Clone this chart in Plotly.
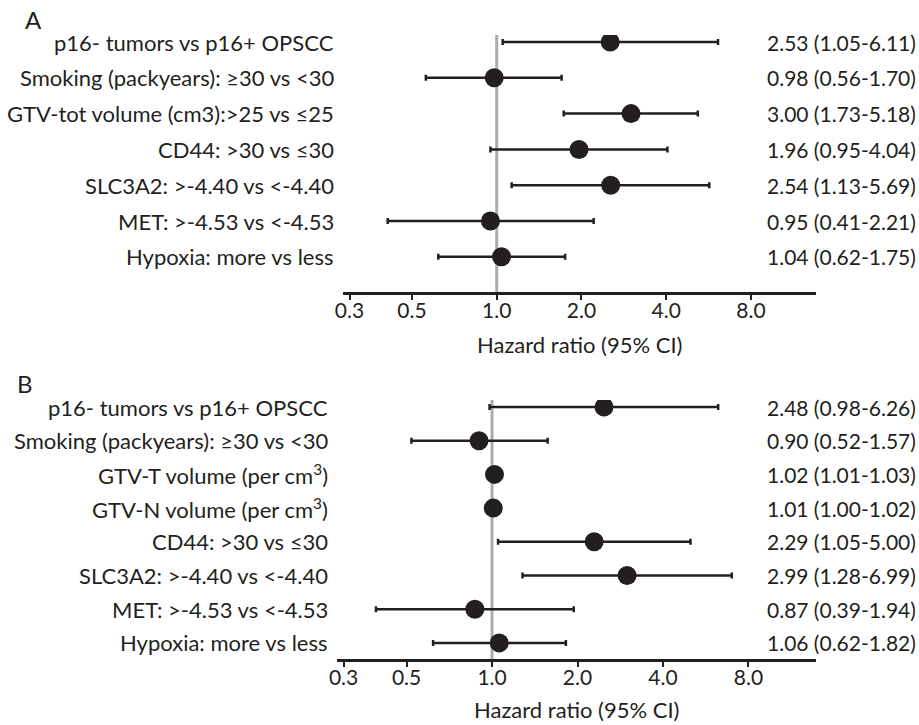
import plotly.graph_objects as go

# ---- Data ----
labels_a = [
    "p16- tumors vs p16+ OPSCC",
    "Smoking (packyears): ≥30 vs <30",
    "GTV-tot volume (cm3):>25 vs ≤25",
    "CD44: >30 vs ≤30",
    "SLC3A2: >-4.40 vs <-4.40",
    "MET: >-4.53 vs <-4.53",
    "Hypoxia: more vs less",
]
hr_a = [2.53, 0.98, 3.00, 1.96, 2.54, 0.95, 1.04]
lo_a = [1.05, 0.56, 1.73, 0.95, 1.13, 0.41, 0.62]
hi_a = [6.11, 1.70, 5.18, 4.04, 5.69, 2.21, 1.75]

labels_b = [
    "p16- tumors vs p16+ OPSCC",
    "Smoking (packyears): ≥30 vs <30",
    "GTV-T volume (per cm<sup>3</sup>)",
    "GTV-N volume (per cm<sup>3</sup>)",
    "CD44: >30 vs ≤30",
    "SLC3A2: >-4.40 vs <-4.40",
    "MET: >-4.53 vs <-4.53",
    "Hypoxia: more vs less",
]
hr_b = [2.48, 0.90, 1.02, 1.01, 2.29, 2.99, 0.87, 1.06]
lo_b = [0.98, 0.52, 1.01, 1.00, 1.05, 1.28, 0.39, 0.62]
hi_b = [6.26, 1.57, 1.03, 1.02, 5.00, 6.99, 1.94, 1.82]

tick_vals = [0.3, 0.5, 1.0, 2.0, 4.0, 8.0]
tick_text = ["0.3", "0.5", "1.0", "2.0", "4.0", "8.0"]
axis_title = "Hazard ratio (95% CI)"

# ---- Style ----
W, H = 919, 725
FONT = "Lato, Carlito, Calibri, sans-serif"
INK = "#231f20"
FS_LAB = 22
FS_NUM = 21


def py(p):  # pixel from top -> paper y
    return 1 - p / H


def px(p):
    return p / W


fig = go.Figure()

panels = [
    dict(labels=labels_a, hr=hr_a, lo=lo_a, hi=hi_a, xa="x", ya="y",
         xdom=(338, 815), xrange=(-0.5458, 1.1338),
         ydom=(35, 292), yrange=(0.017, 7.196),
         lab_right=331, txt_left=764, title_y=344, letter="A", letter_xy=(26, 19)),
    dict(labels=labels_b, hr=hr_b, lo=lo_b, hi=hi_b, xa="x2", ya="y2",
         xdom=(332, 815), xrange=(-0.5457, 1.1407),
         ydom=(400, 659), yrange=(0.522, 8.208),
         lab_right=325, txt_left=764, title_y=709, letter="B", letter_xy=(17, 383)),
]

annotations = []
shapes = []
for i, p in enumerate(panels):
    n = len(p["labels"])
    yv = [n - k for k in range(n)]
    fig.add_trace(go.Scatter(
        x=p["hr"], y=yv, mode="markers", xaxis=p["xa"], yaxis=p["ya"],
        marker=dict(size=19, color=INK),
        error_x=dict(type="data", symmetric=False,
                     array=[h - r for h, r in zip(p["hi"], p["hr"])],
                     arrayminus=[r - l for r, l in zip(p["hr"], p["lo"])],
                     color=INK, thickness=2.5, width=3),
        showlegend=False, hoverinfo="skip",
    ))
    for k in range(n):
        annotations.append(dict(
            x=px(p["lab_right"]), xref="paper", y=yv[k], yref=p["ya"],
            text=p["labels"][k], showarrow=False, xanchor="right", yanchor="middle",
            font=dict(family=FONT, size=FS_LAB, color=INK)))
        annotations.append(dict(
            x=px(p["txt_left"]), xref="paper", y=yv[k], yref=p["ya"],
            text=f"{p['hr'][k]:.2f} ({p['lo'][k]:.2f}-{p['hi'][k]:.2f})",
            showarrow=False, xanchor="left", yanchor="middle",
            font=dict(family=FONT, size=FS_NUM, color=INK)))
    annotations.append(dict(
        x=0.5, xref=f"{p['xa']} domain", y=py(p["title_y"]), yref="paper",
        text=axis_title, showarrow=False, xanchor="center", yanchor="middle",
        font=dict(family=FONT, size=FS_LAB, color=INK)))
    annotations.append(dict(
        x=px(p["letter_xy"][0]), xref="paper", y=py(p["letter_xy"][1]), yref="paper",
        text=p["letter"], showarrow=False, xanchor="center", yanchor="middle",
        font=dict(family=FONT, size=24, color=INK)))
    shapes.append(dict(
        type="line", xref=p["xa"], x0=1, x1=1,
        yref=f"{p['ya']} domain", y0=0, y1=1,
        line=dict(color="#acacac", width=3), layer="below"))

    xkey = "xaxis" if i == 0 else "xaxis2"
    ykey = "yaxis" if i == 0 else "yaxis2"
    fig.update_layout(**{
        xkey: dict(type="log", domain=[px(p["xdom"][0]), px(p["xdom"][1])],
                   range=list(p["xrange"]), anchor=p["ya"],
                   showline=True, linecolor=INK, linewidth=2.5,
                   ticks="outside", ticklen=5, tickwidth=1.5, tickcolor=INK,
                   tickvals=tick_vals, ticktext=tick_text,
                   ticklabelstandoff=-7,
                   tickfont=dict(family=FONT, size=FS_NUM, color=INK),
                   showgrid=False, zeroline=False, fixedrange=True),
        ykey: dict(domain=[py(p["ydom"][1]), py(p["ydom"][0])],
                   range=list(p["yrange"]), anchor=p["xa"],
                   showticklabels=False, showgrid=False, zeroline=False,
                   showline=False, ticks="", fixedrange=True),
    })

fig.update_layout(
    width=W, height=H,
    margin=dict(l=0, r=0, t=0, b=0),
    paper_bgcolor="white", plot_bgcolor="white",
    annotations=annotations, shapes=shapes,
    font=dict(family=FONT, color=INK),
)

fig.write_html("out.html", config={"displayModeBar": False})
